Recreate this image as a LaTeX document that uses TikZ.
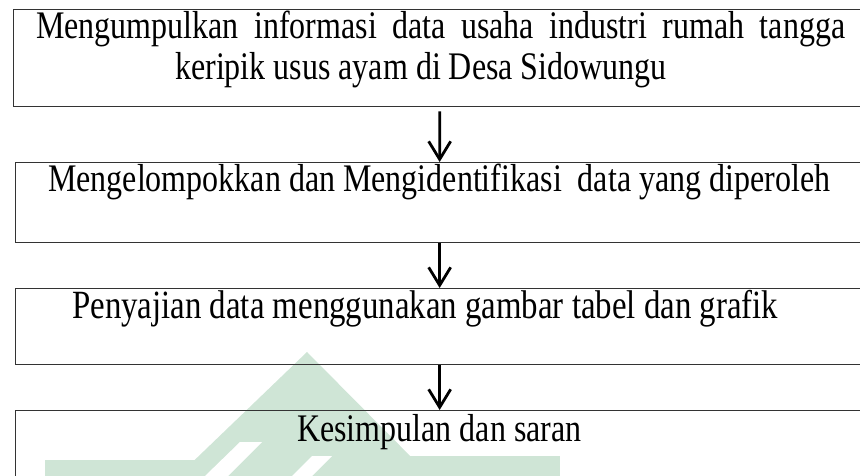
\documentclass[tikz,border=0pt]{standalone}
\usepackage{graphicx}
\usepackage{fontspec}
\setmainfont{Liberation Serif}
\usetikzlibrary{arrows.meta}
\definecolor{wm}{RGB}{207,229,214}
\newcommand\vtall[1]{\scalebox{1}[1.22]{#1}}
\tikzset{
  box/.style={draw=black!80, line width=1.3bp, minimum width=#1, inner sep=0pt, anchor=north west},
  arr/.style={line width=2.8bp, -{Straight Barb[length=18bp,width=22bp]}},
  txt/.style={anchor=base west, inner sep=0pt, font=\fontsize{32bp}{38bp}\selectfont}
}
\begin{document}
\begin{tikzpicture}[x=1bp,y=-1bp]
\useasboundingbox (0,0) rectangle (860,476);
\clip (0,0) rectangle (860,476);
% watermark
\fill[wm] (307,352) -- (178,476) -- (430,476) -- cycle;
\fill[wm] (45,460) rectangle (215,476);
\fill[wm] (318,456) rectangle (560,476);
\fill[white] (205,476) -- (228,476) -- (262,442) -- (240,442) -- cycle;
\fill[white] (292,476) -- (312,476) -- (332,456) -- (312,456) -- cycle;
% boxes
\node[box=852bp, minimum height=97bp] (b1) at (13,9) {};
\node[box=848bp, minimum height=80bp] (b2) at (15,162) {};
\node[box=848bp, minimum height=76bp] (b3) at (15,288) {};
\node[box=848bp, minimum height=80bp] (b4) at (15,410) {};
% texts
\node[txt] (t1a) at (36,39) {\vtall{\makebox[809bp][s]{Mengumpulkan informasi data usaha industri rumah tangga}}};
\node[txt] (t1b) at (175,80) {\vtall{keripik usus ayam di Desa Sidowungu}};
\node[txt] (t2) at (48,192) {\vtall{Mengelompokkan dan Mengidentifikasi\ \ data yang diperoleh}};
\node[txt] (t3) at (72,319) {\vtall{\resizebox{706bp}{!}{Penyajian data menggunakan gambar tabel dan grafik}}};
\node[txt] (t4) at (297,441) {\vtall{Kesimpulan dan saran}};
% arrows
\draw[arr] ([yshift=-4bp]b1.south) -- (b2.north);
\draw[arr] (b2.south) -- (b3.north);
\draw[arr] (b3.south) -- (b4.north);
\end{tikzpicture}
\end{document}
